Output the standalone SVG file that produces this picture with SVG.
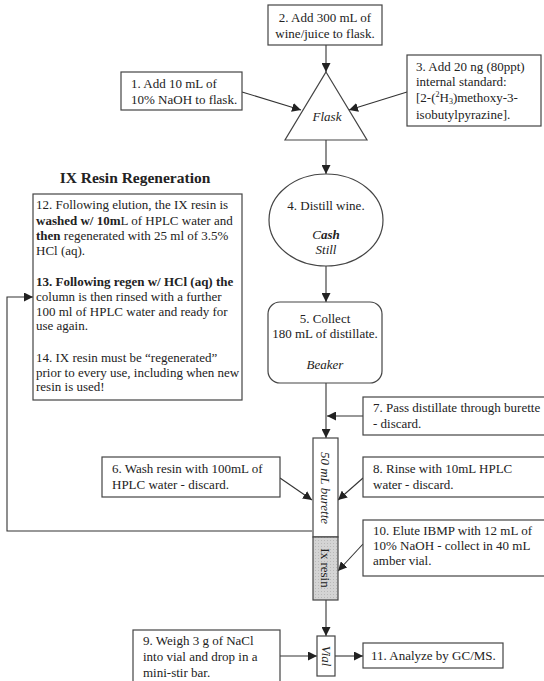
<svg xmlns="http://www.w3.org/2000/svg" width="544" height="681" viewBox="0 0 544 681">
<defs>
<marker id="ah" viewBox="0 0 10 10" refX="10" refY="5" markerWidth="9" markerHeight="9" markerUnits="userSpaceOnUse" orient="auto">
<path d="M0,0 L10,5 L0,10 z" fill="#222"/>
</marker>
<pattern id="dots" width="3" height="3" patternUnits="userSpaceOnUse">
<rect width="3" height="3" fill="#d4d4d4"/>
<rect width="1" height="1" fill="#b8b8b8"/>
</pattern>
</defs>
<style>
text{font-family:"Liberation Serif","Times New Roman",serif;font-size:13px;fill:#222}
.box{fill:#fff;stroke:#444;stroke-width:1.2}
.c{text-anchor:middle}
.i{font-style:italic}
.b{font-weight:bold}
.ln{fill:none;stroke:#333;stroke-width:1.1}
.arr{fill:none;stroke:#333;stroke-width:1.1;marker-end:url(#ah)}
</style>
<rect width="544" height="681" fill="#fff"/>

<g id="connectors">
<line class="arr" x1="326" y1="45" x2="326" y2="72"/>
<line class="arr" x1="242" y1="92" x2="301" y2="110"/>
<line class="arr" x1="407" y1="92" x2="349" y2="110"/>
<line class="arr" x1="326" y1="140" x2="326" y2="174"/>
<line class="arr" x1="326" y1="266" x2="326" y2="302"/>
<line class="arr" x1="326" y1="383" x2="326" y2="438"/>
<line class="arr" x1="363" y1="416" x2="327" y2="416"/>
<line class="arr" x1="280" y1="478" x2="312" y2="500"/>
<line class="arr" x1="363" y1="478" x2="338" y2="500"/>
<line class="arr" x1="363" y1="544" x2="338" y2="571"/>
<line class="arr" x1="326" y1="600" x2="326" y2="636"/>
<line class="arr" x1="280" y1="656" x2="317" y2="656"/>
<line class="arr" x1="335" y1="656" x2="363" y2="656"/>
<polyline class="arr" points="312,531 7,531 7,297 33,297"/>
</g>

<g id="step2">
<rect class="box" x="268" y="5" width="114" height="40"/>
<text class="c" x="325" y="22">2. Add 300 mL of</text>
<text class="c" x="325" y="38">wine/juice to flask.</text>
</g>

<g id="step1">
<rect class="box" x="121" y="72" width="121" height="38"/>
<text x="131" y="88">1. Add 10 mL of</text>
<text x="131" y="104">10% NaOH to flask.</text>
</g>

<g id="step3">
<rect class="box" x="407" y="55" width="134" height="71"/>
<text x="416" y="71">3. Add 20 ng (80ppt)</text>
<text x="416" y="86">internal standard:</text>
<text x="416" y="102">[2-(<tspan font-size="8" dy="-5">2</tspan><tspan dy="5">H</tspan><tspan font-size="8" dy="2">3</tspan><tspan dy="-2">)methoxy-3-</tspan></text>
<text x="416" y="119">isobutylpyrazine].</text>
</g>

<g id="flask">
<polygon class="box" points="326,72 367,140 285,140"/>
<text class="c i" x="327" y="121">Flask</text>
</g>

<g id="step4">
<ellipse class="box" cx="326" cy="220" rx="57" ry="46"/>
<text class="c" x="326" y="210">4. Distill wine.</text>
<text class="c i" x="326" y="239">C<tspan class="b">ash</tspan></text>
<text class="c i" x="326" y="254">Still</text>
</g>

<text class="c b" x="135" y="183" style="font-size:15.5px">IX Resin Regeneration</text>

<g id="step12">
<rect class="box" x="33" y="194" width="209" height="206"/>
<text x="36" y="209">12. Following elution, the IX resin is</text>
<text x="36" y="225"><tspan class="b">washed w/ 10m</tspan>L of HPLC water and</text>
<text x="36" y="240"><tspan class="b">then</tspan> regenerated with 25 ml of 3.5%</text>
<text x="36" y="255">HCl (aq).</text>
<text x="36" y="286" class="b">13. Following regen w/ HCl (aq) the</text>
<text x="36" y="301">column is then rinsed with a further</text>
<text x="36" y="316">100 ml of HPLC water and ready for</text>
<text x="36" y="330">use again.</text>
<text x="36" y="362">14. IX resin must be “regenerated”</text>
<text x="36" y="377">prior to every use, including when new</text>
<text x="36" y="391">resin is used!</text>
</g>

<g id="step5">
<rect class="box" x="268" y="302" width="114" height="81" rx="12"/>
<text class="c" x="325" y="323">5. Collect</text>
<text class="c" x="325" y="338">180 mL of distillate.</text>
<text class="c i" x="325" y="369">Beaker</text>
</g>

<g id="step7">
<rect class="box" x="363" y="397" width="190" height="38"/>
<text x="373" y="412">7. Pass distillate through burette</text>
<text x="373" y="428">- discard.</text>
</g>

<g id="burette">
<rect class="box" x="313" y="438" width="25" height="99"/>
<text class="c i" transform="translate(321,488) rotate(90)">50 mL burette</text>
</g>

<g id="resin">
<rect x="313" y="537" width="25" height="63" fill="url(#dots)" stroke="#444" stroke-width="1.2"/>
<text class="c" transform="translate(321,568) rotate(90)">Ix resin</text>
</g>

<g id="step6">
<rect class="box" x="102" y="457" width="178" height="40"/>
<text x="112" y="473">6. Wash resin with 100mL of</text>
<text x="112" y="489">HPLC water - discard.</text>
</g>

<g id="step8">
<rect class="box" x="363" y="457" width="190" height="40"/>
<text x="373" y="473">8. Rinse with 10mL HPLC</text>
<text x="373" y="489">water - discard.</text>
</g>

<g id="step10">
<rect class="box" x="363" y="520" width="190" height="56"/>
<text x="373" y="535">10. Elute IBMP with 12 mL of</text>
<text x="373" y="550">10% NaOH - collect in 40 mL</text>
<text x="373" y="565">amber vial.</text>
</g>

<g id="step9">
<rect class="box" x="133" y="630" width="147" height="60"/>
<text x="143" y="645">9. Weigh 3 g of NaCl</text>
<text x="143" y="661">into vial and drop in a</text>
<text x="143" y="677">mini-stir bar.</text>
</g>

<g id="vial">
<rect class="box" x="317" y="636" width="18" height="40"/>
<text class="c i" transform="translate(322,656) rotate(90)">Vial</text>
</g>

<g id="step11">
<rect class="box" x="363" y="643" width="140" height="25"/>
<text x="371" y="660">11. Analyze by GC/MS.</text>
</g>
</svg>
